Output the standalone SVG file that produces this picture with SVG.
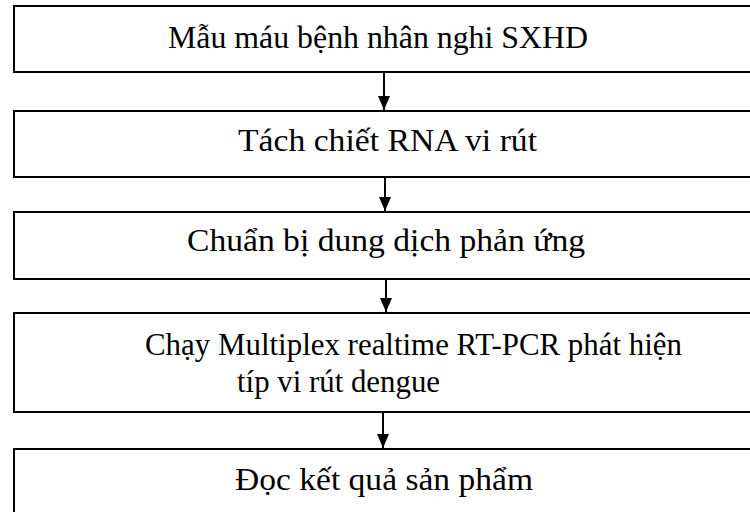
<svg xmlns="http://www.w3.org/2000/svg" width="750" height="512" viewBox="0 0 750 512">
  <style>
    .box { fill: #ffffff; stroke: #000000; stroke-width: 2; }
    .label { font-family: "Liberation Serif", "Times New Roman", serif; font-size: 32px; fill: #000000; }
    .link { stroke: #000000; stroke-width: 2; fill: none; marker-end: url(#arrow); }
  </style>
  <defs>
    <marker id="arrow" viewBox="0 0 14 12" refX="14" refY="6" markerWidth="14" markerHeight="12" markerUnits="userSpaceOnUse" orient="auto">
      <path d="M0,0 L14,6 L0,12 Z" fill="#000000"/>
    </marker>
  </defs>
  <rect width="750" height="512" fill="#ffffff"/>

  <!-- downward arrows between consecutive steps -->
  <g id="connectors">
    <line class="link" x1="384" y1="73" x2="384" y2="110"/>
    <line class="link" x1="385" y1="178" x2="385" y2="211"/>
    <line class="link" x1="386" y1="280" x2="386" y2="312"/>
    <line class="link" x1="383" y1="413" x2="383" y2="448"/>
  </g>

  <g id="step1">
    <rect class="box" x="14" y="6" width="760" height="66"/>
    <text class="label" x="168" y="48" textLength="420" lengthAdjust="spacingAndGlyphs">Mẫu máu bệnh nhân nghi SXHD</text>
  </g>
  <g id="step2">
    <rect class="box" x="14" y="111" width="760" height="66"/>
    <text class="label" x="238" y="151" textLength="299" lengthAdjust="spacingAndGlyphs">Tách chiết RNA vi rút</text>
  </g>
  <g id="step3">
    <rect class="box" x="14" y="212" width="760" height="67"/>
    <text class="label" x="187" y="251" textLength="398" lengthAdjust="spacingAndGlyphs">Chuẩn bị dung dịch phản ứng</text>
  </g>
  <g id="step4">
    <rect class="box" x="14" y="313" width="760" height="99"/>
    <text class="label" x="145" y="355" textLength="537" lengthAdjust="spacingAndGlyphs">Chạy Multiplex realtime RT-PCR phát hiện</text>
    <text class="label" x="237" y="392" textLength="203" lengthAdjust="spacingAndGlyphs">típ vi rút dengue</text>
  </g>
  <g id="step5">
    <rect class="box" x="14" y="449" width="760" height="80"/>
    <text class="label" x="235" y="490" textLength="298" lengthAdjust="spacingAndGlyphs">Đọc kết quả sản phẩm</text>
  </g>
</svg>
